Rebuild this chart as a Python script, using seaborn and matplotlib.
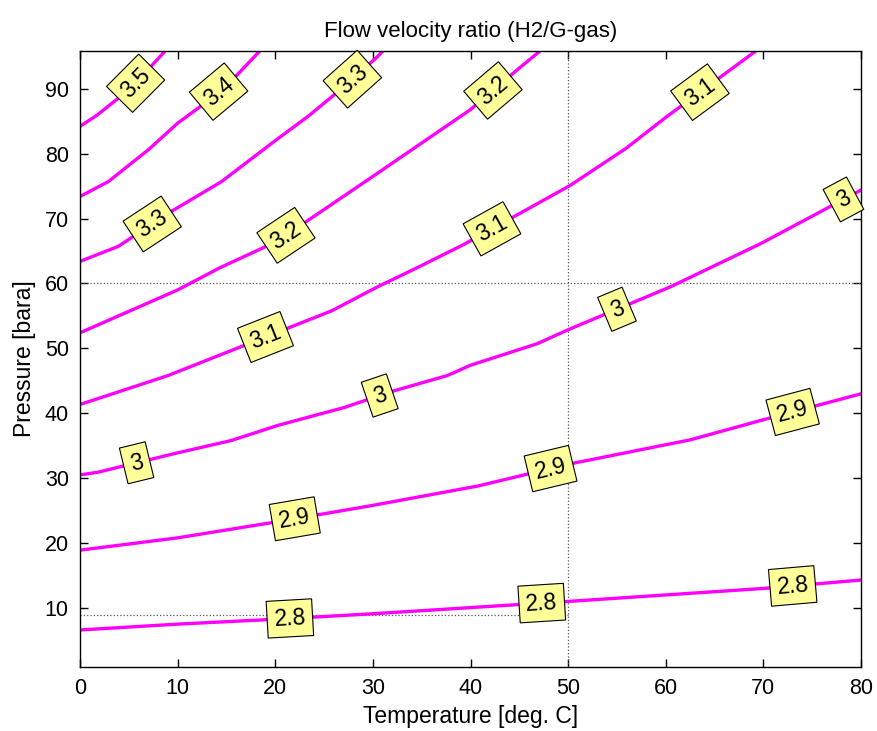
import numpy as np
import pandas as pd
import matplotlib
matplotlib.use("Agg")
import matplotlib.pyplot as plt
import seaborn as sns

sns.set_style("ticks")
plt.rcParams['font.family'] = ['Liberation Sans', 'DejaVu Sans']
plt.rcParams['text.color'] = 'black'
plt.rcParams['axes.labelcolor'] = 'black'
plt.rcParams['xtick.color'] = 'black'
plt.rcParams['ytick.color'] = 'black'

# iso-lines of the velocity ratio (temperature, pressure)
t_28 = [0, 10, 20, 30, 40, 50, 60, 70, 80]
p_28 = [6.6, 7.5, 8.25, 9.1, 10.05, 11.0, 12.0, 13.0, 14.3]
t_29 = [0, 10, 20.3, 29.8, 40.8, 50.2, 62.5, 70, 80]
p_29 = [18.9, 20.8, 23.3, 25.75, 28.8, 32.2, 35.9, 39.0, 43.0]
t_30 = [0, 1.8, 10, 15.5, 20.2, 27.1, 31.8, 37.6, 40, 46.8, 50.2, 60.5, 69.8, 80]
p_30 = [30.5, 30.9, 33.9, 35.8, 38.1, 40.9, 43.3, 45.8, 47.4, 50.7, 53.0, 59.5, 66.2, 74.4]
t_31 = [0, 9.0, 16.9, 25.8, 30.5, 34.5, 39.3, 50.2, 56.0, 60.0, 69.2]
p_31 = [41.35, 45.8, 50.5, 55.8, 59.5, 62.4, 66.0, 75.1, 80.9, 85.6, 95.8]
t_32 = [0, 10, 14.3, 20.2, 30, 40, 45, 47.1]
p_32 = [52.4, 59.0, 62.4, 66.5, 76.5, 86.8, 93.2, 95.8]
t_33 = [0, 3.9, 9.35, 14.5, 19.9, 23.4, 27.1, 30.5, 31.0]
p_33 = [63.4, 65.7, 71.1, 75.7, 81.9, 85.8, 90.4, 95.0, 95.8]
t_34 = [0, 2.9, 7.0, 10.0, 12.8, 15.5, 18.4]
p_34 = [73.4, 75.7, 80.6, 84.7, 87.8, 91.2, 95.8]
t_35 = [0, 1.8, 5.3, 8.7]
p_35 = [84.2, 86.0, 90.2, 95.8]

levels = ['2.8', '2.9', '3', '3.1', '3.2', '3.3', '3.4', '3.5']
temps = [t_28, t_29, t_30, t_31, t_32, t_33, t_34, t_35]
press = [p_28, p_29, p_30, p_31, p_32, p_33, p_34, p_35]

# where the inline labels sit (temperature along each line)
label_t = [[21.5, 47.3, 73.0], [22.0, 48.2, 73.0], [5.8, 30.7, 55.0, 78.2],
           [19.0, 42.2, 63.5], [21.1, 42.3], [7.4, 27.9], [14.2], [5.7]]

rows = []
for lev, tt, pp in zip(levels, temps, press):
    for a, b in zip(tt, pp):
        rows.append((lev, a, b))
df = pd.DataFrame(rows, columns=['level', 'T', 'P'])

fig = plt.figure(figsize=(8.77, 7.31), dpi=100)
ax = fig.add_axes([0.0912, 0.0876, 0.8906, 0.8424])

sns.lineplot(data=df, x='T', y='P', units='level', estimator=None, sort=False,
             color='#ff00ff', linewidth=2.4, ax=ax, legend=False)

ax.set_xlim(0, 80)
ax.set_ylim(0.9, 95.8)

# guide lines
ax.axvline(50, color='#555555', linestyle=':', linewidth=0.9, zorder=1)
ax.axhline(60, color='#555555', linestyle=':', linewidth=0.9, zorder=1)
ax.plot([0, 50], [8.9, 8.9], color='#555555', linestyle=':', linewidth=0.9, zorder=1)

ax.set_xticks(range(0, 81, 10))
ax.set_yticks(range(10, 91, 10))
ax.tick_params(direction='in', top=True, right=True, length=6, width=1,
               labelsize=15.5, pad=8)
for s in ax.spines.values():
    s.set_linewidth(1.0)
    s.set_color('black')

ax.set_xlabel('Temperature [deg. C]', fontsize=16.5, labelpad=4)
ax.set_ylabel('Pressure [bara]', fontsize=16.5, labelpad=6)
ax.set_title('Flow velocity ratio (H2/G-gas)', fontsize=16, pad=10)

# inline labels following the line direction
fig.canvas.draw()
for lev, tt, pp, lt in zip(levels, temps, press, label_t):
    tt = np.asarray(tt, float)
    pp = np.asarray(pp, float)
    for x0 in lt:
        y0 = np.interp(x0, tt, pp)
        p1 = ax.transData.transform((x0 - 1.0, np.interp(x0 - 1.0, tt, pp)))
        p2 = ax.transData.transform((x0 + 1.0, np.interp(x0 + 1.0, tt, pp)))
        ang = np.degrees(np.arctan2(p2[1] - p1[1], p2[0] - p1[0]))
        ax.text(x0, y0, lev, fontsize=16.5, rotation=ang, rotation_mode='anchor',
                ha='center', va='center', zorder=5, clip_on=False,
                bbox=dict(boxstyle='square,pad=0.3', facecolor='#ffff99',
                          edgecolor='black', linewidth=0.8))

fig.savefig('out.png', dpi=100)
